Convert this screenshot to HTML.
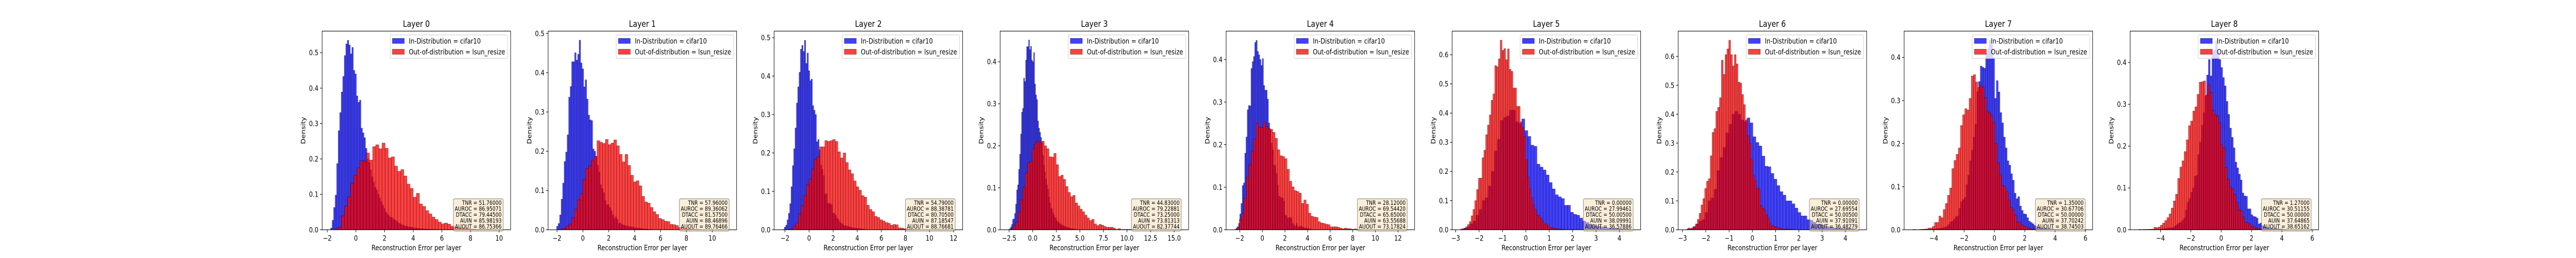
<!DOCTYPE html>
<html><head><meta charset="utf-8"><title>Reconstruction error histograms per layer</title>
<style>
html,body{margin:0;padding:0;background:#fff;width:100%;height:100%;overflow:hidden;}
svg{display:block;font-family:"DejaVu Sans","Liberation Sans",sans-serif;overflow:hidden;width:100vw;height:100vh;}
</style></head>
<body>
<svg id="fig" viewBox="0 0 6000 500" preserveAspectRatio="none" xmlns="http://www.w3.org/2000/svg">
<rect x="0" y="0" width="6000" height="500" fill="#fff"/>
</svg>
<script>
// ---------------- data ----------------
const layerNames = ["Layer 0","Layer 1","Layer 2","Layer 3","Layer 4","Layer 5","Layer 6","Layer 7","Layer 8"];
const xMin = [-2.36,-2.686,-2.903,-3.456,-3.205,-3.153,-3.19,-5.953,-6.0];
const xMax = [10.80,11.88,12.75,16.53,13.47,4.906,4.91,6.47,6.42];
const yMax = [0.561,0.506,0.517,0.473,0.4667,0.681,0.6875,0.461,0.475];
const xTicks0 = [-2,0,2,4,6,8,10];
const xTicks1 = [-2,0,2,4,6,8,10];
const xTicks2 = [-2,0,2,4,6,8,10,12];
const xTicks3 = [-2.5,0,2.5,5,7.5,10,12.5,15];
const xTicks4 = [-2,0,2,4,6,8,10,12];
const xTicks5 = [-3,-2,-1,0,1,2,3,4];
const xTicks6 = [-3,-2,-1,0,1,2,3,4];
const xTicks7 = [-4,-2,0,2,4,6];
const xTicks8 = [-4,-2,0,2,4,6];
const xTickDecimals = [0,0,0,1,0,0,0,0,0];
const yTicks0 = [0,0.1,0.2,0.3,0.4,0.5];
const yTicks1 = [0,0.1,0.2,0.3,0.4,0.5];
const yTicks2 = [0,0.1,0.2,0.3,0.4,0.5];
const yTicks3 = [0,0.1,0.2,0.3,0.4];
const yTicks4 = [0,0.1,0.2,0.3,0.4];
const yTicks5 = [0,0.1,0.2,0.3,0.4,0.5,0.6];
const yTicks6 = [0,0.1,0.2,0.3,0.4,0.5,0.6];
const yTicks7 = [0,0.1,0.2,0.3,0.4];
const yTicks8 = [0,0.1,0.2,0.3,0.4];

const blueStart = [-1.77,-2.03,-2.166,-2.56,-2.444,-2.786,-2.815,-4.83,-4.821];
const blueWidth = [0.106,0.116,0.111,0.106,0.1105,0.1304,0.129,0.118,0.117];
const redStart = [-1.45,-1.735,-1.75,-2.30,-2.254,-2.73,-2.766,-5.377,-5.425];
const redWidth = [0.218,0.217,0.218,0.252,0.2114,0.0777,0.0796,0.1425,0.142];

const blue0 = [0.005,0.027,0.063,0.098,0.187,0.28,0.331,0.389,0.433,0.492,0.525,0.535,0.522,0.497,0.515,0.45,0.44,0.378,0.36,0.366,0.287,0.274,0.26,0.23,0.2,0.19,0.17,0.15,0.135,0.12,0.113,0.1,0.09,0.08,0.07,0.06,0.05,0.045,0.04,0.035,0.035,0.03,0.028,0.025,0.02,0.018,0.015,0.013,0.012,0.01,0.01,0.008,0.008,0.007,0.006,0.005,0.005,0.004,0.004,0.003,0.003,0.003,0.002,0.002,0.002,0.002,0.001,0.001,0.001,0.001,0.001];
const red0 = [0.004,0.007,0.039,0.067,0.093,0.13,0.154,0.175,0.195,0.194,0.217,0.197,0.235,0.24,0.229,0.245,0.23,0.203,0.206,0.18,0.165,0.17,0.152,0.129,0.117,0.092,0.103,0.073,0.066,0.054,0.045,0.036,0.029,0.022,0.017,0.019,0.016,0.01,0.008,0.006,0.005,0.004,0.003,0.002,0.002,0.001,0.001,0.001,0.001,0.001];
const blue1 = [0.009,0.016,0.038,0.078,0.119,0.174,0.198,0.242,0.338,0.365,0.428,0.428,0.451,0.432,0.447,0.483,0.425,0.41,0.364,0.382,0.333,0.292,0.28,0.278,0.206,0.2,0.187,0.165,0.147,0.115,0.105,0.095,0.075,0.064,0.064,0.057,0.049,0.038,0.029,0.033,0.027,0.016,0.017,0.014,0.012,0.011,0.01,0.009,0.008,0.008,0.007,0.006,0.005,0.005,0.004,0.004,0.003,0.003,0.002,0.002,0.002,0.001,0.001,0.001];
const red1 = [0.002,0.004,0.009,0.014,0.03,0.052,0.076,0.092,0.128,0.156,0.163,0.177,0.187,0.227,0.223,0.22,0.23,0.217,0.221,0.229,0.214,0.192,0.173,0.192,0.164,0.139,0.122,0.125,0.112,0.085,0.071,0.068,0.057,0.046,0.039,0.029,0.026,0.022,0.021,0.014,0.013,0.011,0.006,0.005,0.003,0.003,0.002,0.001,0.001,0.001];
const blue2 = [0.001,0.007,0.012,0.026,0.043,0.068,0.112,0.167,0.211,0.265,0.33,0.372,0.41,0.47,0.48,0.464,0.493,0.433,0.46,0.414,0.388,0.392,0.323,0.311,0.3,0.229,0.235,0.208,0.168,0.157,0.141,0.092,0.094,0.07,0.068,0.068,0.065,0.043,0.043,0.038,0.03,0.027,0.021,0.017,0.016,0.012,0.01,0.01,0.009,0.008,0.007,0.006,0.005,0.005,0.004,0.004,0.003,0.003,0.002,0.002,0.001,0.001];
const red2 = [0.001,0.003,0.009,0.018,0.041,0.062,0.089,0.117,0.132,0.158,0.184,0.19,0.216,0.216,0.232,0.23,0.232,0.235,0.23,0.203,0.187,0.2,0.175,0.156,0.146,0.127,0.112,0.103,0.089,0.085,0.064,0.053,0.047,0.035,0.032,0.026,0.023,0.019,0.017,0.012,0.014,0.013,0.005,0.0045,0.003,0.002,0.002,0.001,0.001,0.001];
const blue3 = [0.001,0.003,0.007,0.013,0.025,0.026,0.039,0.061,0.095,0.107,0.144,0.18,0.228,0.28,0.289,0.361,0.353,0.404,0.436,0.436,0.452,0.429,0.437,0.404,0.4,0.422,0.347,0.321,0.31,0.259,0.242,0.232,0.22,0.207,0.177,0.154,0.138,0.121,0.107,0.097,0.078,0.064,0.052,0.05,0.041,0.035,0.029,0.027,0.021,0.019,0.017,0.015,0.013,0.011,0.01,0.009,0.008,0.007,0.006,0.005,0.005,0.004,0.003,0.003,0.002,0.002,0.001,0.001];
const red3 = [0.002,0.01,0.018,0.042,0.071,0.101,0.135,0.16,0.163,0.193,0.207,0.211,0.208,0.211,0.2,0.193,0.174,0.173,0.182,0.155,0.127,0.13,0.12,0.103,0.089,0.079,0.082,0.064,0.057,0.049,0.043,0.035,0.028,0.022,0.025,0.014,0.01,0.013,0.011,0.008,0.006,0.006,0.006,0.004,0.001,0.003,0.001,0.001,0.001,0.001,0.001,0.001];
const blue4 = [0.001,0.004,0.007,0.015,0.037,0.062,0.104,0.11,0.18,0.218,0.282,0.292,0.291,0.379,0.395,0.407,0.44,0.445,0.419,0.411,0.4,0.386,0.402,0.339,0.328,0.328,0.307,0.251,0.236,0.204,0.188,0.152,0.151,0.132,0.105,0.079,0.077,0.075,0.075,0.067,0.035,0.033,0.027,0.029,0.029,0.027,0.015,0.011,0.008,0.015,0.008,0.006,0.008,0.009,0.006,0.005,0.004,0.004,0.003,0.002,0.002,0.001];
const red4 = [0.006,0.024,0.039,0.074,0.123,0.153,0.185,0.213,0.25,0.24,0.24,0.253,0.242,0.238,0.236,0.229,0.215,0.188,0.174,0.172,0.167,0.142,0.114,0.101,0.092,0.09,0.086,0.062,0.07,0.06,0.039,0.032,0.03,0.029,0.019,0.016,0.015,0.013,0.012,0.007,0.007,0.007,0.006,0.004,0.0025,0.004,0.003,0.0025,0.001,0.002,0.001,0.001];
const blue5 = [0.003,0.006,0.01,0.02,0.03,0.05,0.07,0.1,0.11,0.15,0.2,0.27,0.31,0.375,0.385,0.39,0.41,0.41,0.37,0.365,0.38,0.34,0.32,0.29,0.286,0.225,0.215,0.205,0.188,0.162,0.14,0.12,0.113,0.107,0.084,0.084,0.06,0.053,0.05,0.04,0.03,0.025,0.02,0.015,0.013,0.012,0.01,0.008,0.006,0.006,0.005,0.005,0.004,0.003,0.003,0.002];
const red5 = [0.002,0.004,0.01,0.018,0.028,0.048,0.07,0.1,0.138,0.177,0.177,0.247,0.273,0.326,0.359,0.394,0.444,0.466,0.563,0.559,0.586,0.65,0.615,0.621,0.583,0.62,0.55,0.543,0.486,0.486,0.423,0.423,0.37,0.35,0.32,0.24,0.18,0.14,0.11,0.085,0.07,0.05,0.05,0.04,0.03,0.02,0.02,0.015,0.008,0.008,0.005,0.004,0.003,0.003,0.002,0.002];
const blue6 = [0.003,0.004,0.01,0.02,0.03,0.035,0.06,0.1,0.11,0.14,0.205,0.25,0.285,0.335,0.365,0.4,0.41,0.4,0.38,0.375,0.387,0.37,0.322,0.302,0.29,0.255,0.22,0.218,0.195,0.175,0.153,0.132,0.12,0.1,0.1,0.09,0.075,0.06,0.048,0.048,0.035,0.033,0.026,0.02,0.02,0.016,0.012,0.01,0.009,0.006,0.006,0.005,0.004,0.004,0.003,0.003];
const red6 = [0.006,0.004,0.007,0.012,0.02,0.036,0.057,0.086,0.108,0.143,0.168,0.177,0.256,0.337,0.35,0.41,0.424,0.457,0.587,0.538,0.606,0.626,0.656,0.606,0.567,0.606,0.574,0.511,0.508,0.468,0.433,0.38,0.325,0.3,0.242,0.19,0.169,0.143,0.14,0.084,0.075,0.07,0.052,0.04,0.021,0.014,0.0125,0.01,0.007,0.006,0.004,0.002,0.002,0.004,0.001,0.002,0.001];
const blue7 = [0.001,0.001,0.001,0.001,0.001,0.001,0.002,0.002,0.002,0.003,0.003,0.004,0.005,0.006,0.008,0.012,0.018,0.02,0.025,0.03,0.032,0.05,0.065,0.07,0.075,0.105,0.127,0.16,0.185,0.215,0.245,0.32,0.344,0.38,0.377,0.375,0.41,0.42,0.44,0.43,0.4,0.305,0.346,0.32,0.272,0.248,0.215,0.19,0.16,0.15,0.13,0.115,0.085,0.072,0.077,0.055,0.045,0.037,0.036,0.028,0.02,0.017,0.014,0.01,0.007,0.006,0.005,0.004,0.004,0.003,0.003,0.002,0.002,0.002,0.001,0.001,0.001,0.001,0.001,0.001];
const red7 = [0.001,0.0006,0.0003,0.001,0.001,0.0015,0.002,0.004,0.004,0.008,0.017,0.017,0.032,0.028,0.047,0.061,0.08,0.097,0.142,0.161,0.175,0.19,0.242,0.267,0.281,0.278,0.305,0.357,0.36,0.343,0.33,0.335,0.331,0.307,0.276,0.271,0.265,0.249,0.201,0.155,0.128,0.103,0.101,0.088,0.069,0.052,0.047,0.034,0.018,0.018,0.012,0.008,0.007,0.004,0.002,0.002,0.001,0.001,0.001,0.001];
const blue8 = [0.001,0.001,0.001,0.001,0.001,0.001,0.001,0.002,0.002,0.003,0.004,0.004,0.005,0.005,0.006,0.01,0.013,0.016,0.018,0.023,0.028,0.047,0.066,0.075,0.09,0.1,0.128,0.13,0.18,0.21,0.25,0.28,0.32,0.37,0.407,0.368,0.426,0.43,0.453,0.426,0.407,0.388,0.364,0.344,0.307,0.276,0.243,0.221,0.196,0.162,0.148,0.133,0.119,0.088,0.081,0.08,0.05,0.05,0.036,0.032,0.031,0.028,0.014,0.016,0.01,0.008,0.006,0.005,0.004,0.004,0.003,0.003,0.003,0.002,0.002,0.002,0.001,0.001];
const red8 = [0.001,0.0006,0.001,0.001,0.001,0.001,0.0015,0.006,0.005,0.0066,0.011,0.016,0.022,0.029,0.038,0.052,0.069,0.085,0.123,0.15,0.165,0.187,0.215,0.249,0.26,0.284,0.294,0.324,0.353,0.354,0.356,0.322,0.346,0.328,0.286,0.275,0.273,0.255,0.203,0.196,0.149,0.121,0.102,0.098,0.085,0.066,0.048,0.046,0.031,0.018,0.017,0.014,0.008,0.008,0.003,0.004,0.001,0.001,0.001];

const tnr = ["51.76000","57.96000","54.79000","44.83000","28.12000","0.00000","0.00000","1.35000","1.27000"];
const auroc = ["86.95071","89.36062","88.38781","79.22881","69.54420","27.99461","27.69554","30.67706","30.51155"];
const dtacc = ["79.44500","81.57500","80.70500","73.25000","65.65000","50.00500","50.00500","50.00000","50.00000"];
const auin = ["85.98193","88.46896","87.18547","73.81313","63.55688","38.09991","37.91091","37.70242","37.64865"];
const auout = ["86.75366","89.76466","88.76681","82.37744","73.17824","36.57886","36.48279","38.74503","38.65162"];

const legendLabels = ["In-Distribution = cifar10","Out-of-distribution = lsun_resize"];

// ---------------- drawing ----------------
const NS = "http://www.w3.org/2000/svg";
const svg = document.getElementById("fig");
const xTicksAll = [xTicks0,xTicks1,xTicks2,xTicks3,xTicks4,xTicks5,xTicks6,xTicks7,xTicks8];
const yTicksAll = [yTicks0,yTicks1,yTicks2,yTicks3,yTicks4,yTicks5,yTicks6,yTicks7,yTicks8];
const blueAll = [blue0,blue1,blue2,blue3,blue4,blue5,blue6,blue7,blue8];
const redAll = [red0,red1,red2,red3,red4,red5,red6,red7,red8];

function mk(tag, attrs, parent){
  const e = document.createElementNS(NS, tag);
  for (const k in attrs) e.setAttribute(k, attrs[k]);
  (parent||svg).appendChild(e);
  return e;
}
function fmt(v, d){
  const s = Math.abs(v).toFixed(d);
  return (v < 0 ? "\u2212" : "") + s;
}

const AX_LEFT0 = 750.3, AX_STEP = 526.4, AX_W = 439, AX_TOP = 60.3, AX_H = 385;

for (let i = 0; i < 9; i++) {
  const L = AX_LEFT0 + AX_STEP * i, T = AX_TOP, W = AX_W, H = AX_H, B = T + H;
  const X = v => L + (v - xMin[i]) / (xMax[i] - xMin[i]) * W;
  const Y = v => B - v / yMax[i] * H;

  const g = mk("g", {});
  
  

  const cp = mk("clipPath", {id: "clip" + i}, g);
  mk("rect", {x: L, y: T, width: W, height: H}, cp);

  const bars = mk("g", {"clip-path": "url(#clip" + i + ")"}, g);
  
  

  const series = [
    {vals: blueAll[i], s: blueStart[i], w: blueWidth[i], fill: "rgba(0,0,255,0.75)", name: "in-distribution-bar"},
    {vals: redAll[i], s: redStart[i], w: redWidth[i], fill: "rgba(255,0,0,0.75)", name: "out-of-distribution-bar"}
  ];
  for (const se of series) {
    se.vals.forEach((v, k) => {
      if (v <= 0) return;
      const x0 = X(se.s + k * se.w), x1 = X(se.s + (k + 1) * se.w);
      const r = mk("rect", {x: x0, y: Y(v), width: x1 - x0, height: B - Y(v), fill: se.fill, stroke: "rgba(0,0,0,0.55)", "stroke-width": 0.7}, bars);
      
      
    });
  }

  const xt = xTicksAll[i];
  xt.forEach(t => {
    const x = X(t);
    mk("line", {x1: x, y1: B, x2: x, y2: B + 4.9, stroke: "#000", "stroke-width": 1.1}, g);
    const tx = mk("text", {x: x, y: B + 21, "font-size": 13.9, "text-anchor": "middle", fill: "#000"}, g);
    tx.textContent = fmt(t, xTickDecimals[i]);
    
    
  });
  const yt = yTicksAll[i];
  yt.forEach(t => {
    const y = Y(t);
    mk("line", {x1: L - 4.9, y1: y, x2: L, y2: y, stroke: "#000", "stroke-width": 1.1}, g);
    const tx = mk("text", {x: L - 8.5, y: y + 5, "font-size": 13.9, "text-anchor": "end", fill: "#000"}, g);
    tx.textContent = t.toFixed(1);
    
    
  });

  const fr = mk("rect", {x: L, y: T, width: W, height: H, fill: "none", stroke: "#000", "stroke-width": 1.1}, g);
  
  

  const tt = mk("text", {x: L + W / 2, y: 52, "font-size": 16.7, "text-anchor": "middle", fill: "#000"}, g);
  tt.textContent = layerNames[i];
  
  

  const xl = mk("text", {x: L + W / 2, y: 485, "font-size": 13.9, "text-anchor": "middle", fill: "#000"}, g);
  xl.textContent = "Reconstruction Error per layer";
  
  

  const yx = L - 39, yy = T + H / 2;
  const yl = mk("text", {x: yx, y: yy, "font-size": 13.9, "text-anchor": "middle", fill: "#000", transform: "rotate(-90 " + yx + " " + yy + ")"}, g);
  yl.textContent = "Density";
  
  

  const lg = mk("g", {}, g);
  
  
  mk("rect", {x: L + 158.5, y: T + 7.5, width: 273.5, height: 45.5, rx: 2.5, fill: "rgba(255,255,255,0.8)", stroke: "#cccccc", "stroke-width": 1}, lg);
  const lcols = ["rgba(0,0,255,0.75)", "rgba(255,0,0,0.75)"];
  for (let k = 0; k < 2; k++) {
    const py = T + 14 + k * 21;
    const pr = mk("rect", {x: L + 163.5, y: py, width: 28, height: 10, fill: lcols[k], stroke: "rgba(0,0,0,0.55)", "stroke-width": 0.7}, lg);
    
    
    const lt = mk("text", {x: L + 202, y: py + 10, "font-size": 13.9, fill: "#000"}, lg);
    lt.textContent = legendLabels[k];
    
    
  }

  const sb = mk("g", {}, g);
  
  
  mk("rect", {x: L + 305.7, y: T + 325, width: 116, height: 62.5, rx: 3, fill: "rgba(245,222,179,0.5)", stroke: "rgba(0,0,0,0.45)", "stroke-width": 1.1}, sb);
  const lines = ["TNR = " + tnr[i], "AUROC = " + auroc[i], "DTACC = " + dtacc[i], "AUIN = " + auin[i], "AUOUT = " + auout[i]];
  lines.forEach((s, k) => {
    const st = mk("text", {x: L + 418, y: T + 336.5 + k * 11.5, "font-size": 11.1, "text-anchor": "end", fill: "#000"}, sb);
    st.textContent = s;
    
    
  });
}
</script>
</body></html>
